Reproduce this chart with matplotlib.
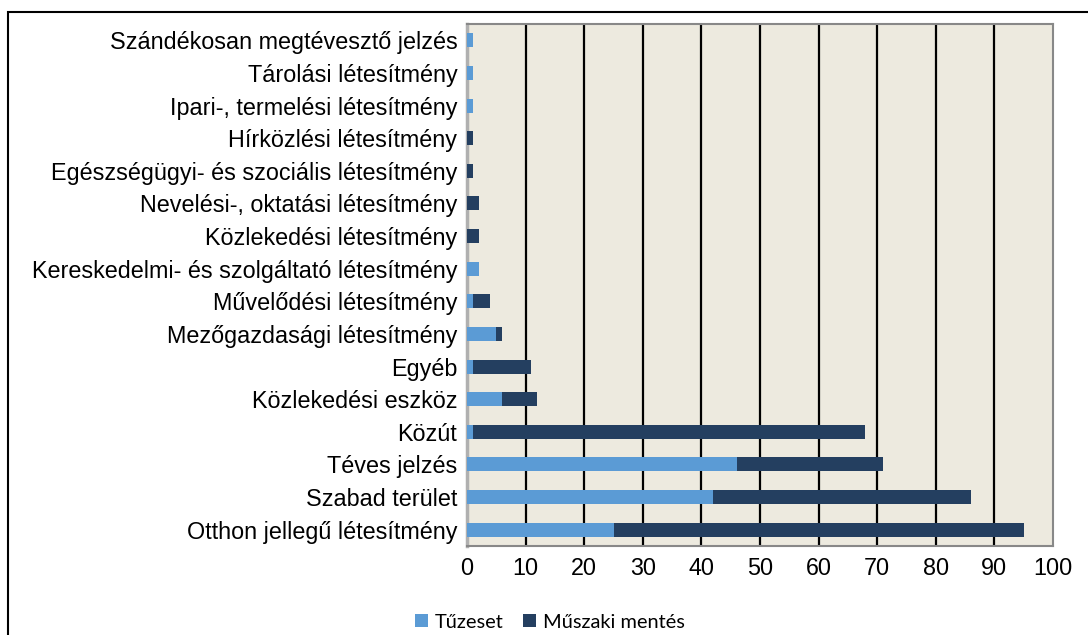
import matplotlib
matplotlib.use("Agg")
import matplotlib.pyplot as plt
from matplotlib.patches import Rectangle
import numpy as np

categories = [
    "Otthon jellegű létesítmény",
    "Szabad terület",
    "Téves jelzés",
    "Közút",
    "Közlekedési eszköz",
    "Egyéb",
    "Mezőgazdasági létesítmény",
    "Művelődési létesítmény",
    "Kereskedelmi- és szolgáltató létesítmény",
    "Közlekedési létesítmény",
    "Nevelési-, oktatási létesítmény",
    "Egészségügyi- és szociális létesítmény",
    "Hírközlési létesítmény",
    "Ipari-, termelési létesítmény",
    "Tárolási létesítmény",
    "Szándékosan megtévesztő jelzés",
]
tuzeset = [25, 42, 46, 1, 6, 1, 5, 1, 2, 0, 0, 0, 0, 1, 1, 1]
muszaki = [70, 44, 25, 67, 6, 10, 1, 3, 0, 2, 2, 1, 1, 0, 0, 0]
x_ticks = [0, 10, 20, 30, 40, 50, 60, 70, 80, 90, 100]

W, H = 1088, 635
fig = plt.figure(figsize=(W / 100, H / 100), dpi=100)
fig.patch.set_facecolor("white")

# outer frame
fig.patches.append(Rectangle((8 / W, -0.05), 1.2, 1 - 12 / H + 0.05,
                             transform=fig.transFigure, fill=False,
                             edgecolor="black", linewidth=1.5, zorder=0))

left, right, top, bottom = 467, 1053, 24, 546
ax = fig.add_axes([left / W, 1 - bottom / H, (right - left) / W, (bottom - top) / H])
ax.set_facecolor("#EDEADF")

y = np.arange(len(categories))
c1, c2 = "#5B9BD5", "#243F60"
ax.barh(y, tuzeset, height=0.43, color=c1, label="Tűzeset", zorder=3)
ax.barh(y, muszaki, left=tuzeset, height=0.43, color=c2, label="Műszaki mentés", zorder=3)

ax.set_xlim(0, 100)
ax.set_ylim(-0.5, len(categories) - 0.5)
ax.set_xticks(x_ticks)
ax.set_xticklabels([str(t) for t in x_ticks], fontsize=16.8, family="Liberation Sans")
ax.set_yticks(y)
ax.set_yticklabels(categories, fontsize=16.8, family="Liberation Sans")
ax.tick_params(axis="both", length=0)
ax.tick_params(axis="y", pad=7)
ax.tick_params(axis="x", pad=8)

for t in x_ticks[1:-1]:
    ax.axvline(t, color="black", linewidth=1.6, zorder=2)

for s in ax.spines.values():
    s.set_color("#888888")
    s.set_linewidth(1.5)
ax.spines["left"].set_color("#B0B0B0")
ax.spines["left"].set_linewidth(2.5)

leg = fig.legend(loc="center", bbox_to_anchor=(550 / W, 1 - 622 / H), ncol=2,
                 frameon=False, prop={"family": "Lato", "size": 14.4},
                 handlelength=0.65, handleheight=0.65, handletextpad=0.35,
                 columnspacing=1.0)

fig.savefig("out.png", dpi=100)
